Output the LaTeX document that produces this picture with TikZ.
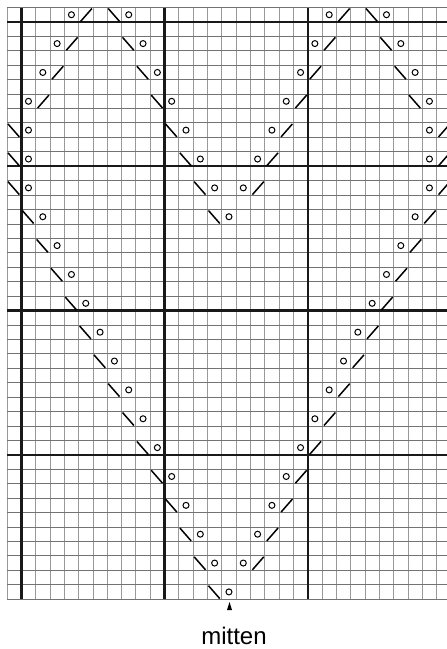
\documentclass[tikz,border=0pt]{standalone}
\usepackage{fontspec}
\setmainfont{Liberation Sans}
\newcommand\kyo[2]{\draw[yarnover] ({7+14.32*((#1)+0.5)},{7.5+14.43*((#2)+0.5)}) circle[radius=3pt];}
\newcommand\kbs[2]{\draw[decline] ({7+14.32*(#1)+1},{7.5+14.43*(#2)+1}) -- ({7+14.32*((#1)+1)-2},{7.5+14.43*((#2)+1)-0.5});}
\newcommand\kfs[2]{\draw[decline] ({7+14.32*(#1)+2},{7.5+14.43*((#2)+1)-0.5}) -- ({7+14.32*((#1)+1)-1},{7.5+14.43*(#2)+1});}
\begin{document}
\begin{tikzpicture}[x=1pt,y=-1pt,
  thinv/.style={draw=black!40,line width=0.8pt},
  thinh/.style={draw=black!55,line width=0.9pt},
  thickline/.style={draw=black!90,line width=2.4pt},
  decline/.style={draw=black,line width=1.5pt},
  yarnover/.style={draw=black,line width=1pt}]
\useasboundingbox (0,0) rectangle (447,649);
\fill[white] (0,0) rectangle (447,649);
\begin{scope}
\clip (0,0) rectangle (447,649);
% thin grid
\foreach \k in {0,...,31} \draw[thinv] ({7+14.32*\k},7.5) -- ({7+14.32*\k},599.1);
\foreach \k in {0,...,41} \draw[thinh] (7,{7.5+14.43*\k}) -- (450,{7.5+14.43*\k});
% thick grid
\foreach \k in {1,11,21} \draw[thickline] ({7+14.32*\k},7.5) -- ({7+14.32*\k},599.1);
\foreach \k in {1,11,21,31} \draw[thickline] (7,{7.5+14.43*\k}) -- (450,{7.5+14.43*\k});
% line F
\foreach \i in {0,...,3} {\kyo{4-\i}{2*\i}\kfs{5-\i}{2*\i}}
% line A
\foreach \i in {0,...,7} {\kbs{7+\i}{2*\i}\kyo{8+\i}{2*\i}}
% line B
\foreach \i in {0,...,6} {\kyo{22-\i}{2*\i}\kfs{23-\i}{2*\i}}
% line E
\foreach \i in {0,...,3} {\kbs{25+\i}{2*\i}\kyo{26+\i}{2*\i}}
% line C
\foreach \r in {8,10,12} {\kbs{0}{\r}\kyo{1}{\r}}
\foreach \r in {14,16,...,40} {\kbs{(\r-12)/2}{\r}\kyo{(\r-10)/2}{\r}}
% line D
\foreach \r in {8,10,12} {\kyo{29}{\r}\kfs{30}{\r}}
\foreach \r in {14,16,...,38} {\kyo{35-\r/2}{\r}\kfs{36-\r/2}{\r}}
\end{scope}
% centre mark
\fill[black] (229.5,602) -- (227,610) -- (232,610) -- cycle;
\node[anchor=base, inner sep=0pt, font=\fontsize{24}{28}\selectfont] (mittenlabel) at (234,644) {mitten};
\end{tikzpicture}
\end{document}
